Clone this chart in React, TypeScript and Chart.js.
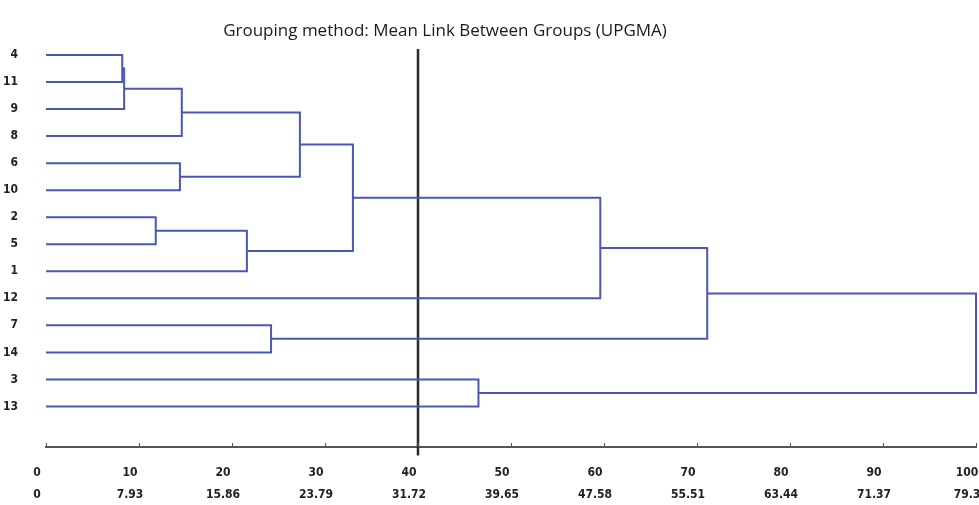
import React, { useEffect, useRef } from "react";
import { Chart, registerables } from "chart.js";

Chart.register(...registerables);

// Leaf labels, top to bottom
const leafLabels = ["4", "11", "9", "8", "6", "10", "2", "5", "1", "12", "7", "14", "3", "13"];
// Merges: [nodeA, nodeB, height]; leaves are nodes 0..13, merges are 14..
const merges: [number, number, number][] = [
  [0, 1, 8.2],
  [14, 2, 8.4],
  [15, 3, 14.6],
  [4, 5, 14.4],
  [16, 17, 27.3],
  [6, 7, 11.8],
  [19, 8, 21.6],
  [18, 20, 33.0],
  [21, 9, 59.6],
  [10, 11, 24.2],
  [22, 23, 71.1],
  [12, 13, 46.5],
  [24, 25, 100],
];
const xTickValues = [0, 10, 20, 30, 40, 50, 60, 70, 80, 90, 100];
const xTickSecondRow = ["0", "7.93", "15.86", "23.79", "31.72", "39.65", "47.58", "55.51", "63.44", "71.37", "79.3"];
const cutValue = 40;
const cutSpan = [-0.22, 14.81];
const titleText = "Grouping method: Mean Link Between Groups (UPGMA)";

const BLUE = "#4a57b5";
const LABEL_FONT = "'Liberation Sans Narrow', 'DejaVu Sans Condensed', sans-serif";

export default function App() {
  const ref = useRef<HTMLCanvasElement | null>(null);
  useEffect(() => {
    if (!ref.current) return;
    const ys: number[] = leafLabels.map((_, i) => i);
    const hs: number[] = leafLabels.map(() => 0);
    const datasets: any[] = [];
    merges.forEach(([a, b, h]) => {
      datasets.push({
        data: [
          { x: hs[a], y: ys[a] },
          { x: h, y: ys[a] },
          { x: h, y: ys[b] },
          { x: hs[b], y: ys[b] },
        ],
        showLine: true,
        borderColor: BLUE,
        borderWidth: 2,
        pointRadius: 0,
        clip: false,
        borderJoinStyle: "miter",
      });
      ys.push((ys[a] + ys[b]) / 2);
      hs.push(h);
    });
    datasets.push({
      data: [
        { x: cutValue, y: cutSpan[0] },
        { x: cutValue, y: cutSpan[1] },
      ],
      showLine: true,
      borderColor: "#2a2a2a",
      borderWidth: 2.5,
      pointRadius: 0,
      clip: false,
    });

    const extras = {
      id: "extras",
      afterDraw(chart: any) {
        const ctx = chart.ctx;
        const xs = chart.scales.x;
        ctx.save();
        // axis ticks pointing up
        ctx.strokeStyle = "#555";
        ctx.lineWidth = 1;
        xTickValues.forEach((v) => {
          const px = Math.round(xs.getPixelForValue(v)) + 0.5;
          ctx.beginPath();
          ctx.moveTo(px, chart.chartArea.bottom);
          ctx.lineTo(px, chart.chartArea.bottom - 4);
          ctx.stroke();
        });
        // title
        ctx.fillStyle = "#1a1a1a";
        ctx.font = "17px 'Open Sans', sans-serif";
        ctx.textAlign = "center";
        ctx.textBaseline = "middle";
        ctx.fillText(titleText, 445, 31);
        ctx.restore();
      },
    };

    const chart = new Chart(ref.current, {
      type: "scatter",
      data: { datasets },
      plugins: [extras],
      options: {
        animation: false,
        responsive: true,
        maintainAspectRatio: false,
        layout: { padding: { top: 41.5, right: 3, left: 0, bottom: 0 } },
        plugins: { legend: { display: false }, tooltip: { enabled: false }, title: { display: false } },
        scales: {
          x: {
            type: "linear",
            min: 0,
            max: 100,
            afterBuildTicks: (s: any) => {
              s.ticks = xTickValues.map((v) => ({ value: v }));
            },
            afterFit: (s: any) => {
              s.height = 58;
              s.paddingLeft = 0;
              s.paddingRight = 0;
            },
            grid: { display: false, drawTicks: false },
            border: { display: true, color: "#555", width: 2 },
            ticks: {
              autoSkip: false,
              maxRotation: 0,
              padding: 15,
              labelOffset: -9,
              color: "#222",
              font: { family: LABEL_FONT, size: 12, weight: "bold", lineHeight: 1.8 },
              callback: (v: any, i: number) => [String(xTickValues[i]), xTickSecondRow[i]],
            },
          },
          y: {
            type: "linear",
            reverse: true,
            min: -0.5,
            max: 14.5,
            afterBuildTicks: (s: any) => {
              s.ticks = leafLabels.map((_, i) => ({ value: i }));
            },
            afterFit: (s: any) => {
              s.width = 46;
              s.paddingTop = 0;
              s.paddingBottom = 0;
            },
            grid: { display: false, drawTicks: false },
            border: { display: false },
            ticks: {
              autoSkip: false,
              padding: 28,
              color: "#222",
              font: { family: LABEL_FONT, size: 12, weight: "bold" },
              callback: (v: any, i: number) => leafLabels[i],
            },
          },
        },
      } as any,
    });
    return () => chart.destroy();
  }, []);
  return (
    <div style={{ position: "fixed", left: 0, top: 0, width: 979, height: 505, background: "#fff" }}>
      <canvas ref={ref} />
    </div>
  );
}
